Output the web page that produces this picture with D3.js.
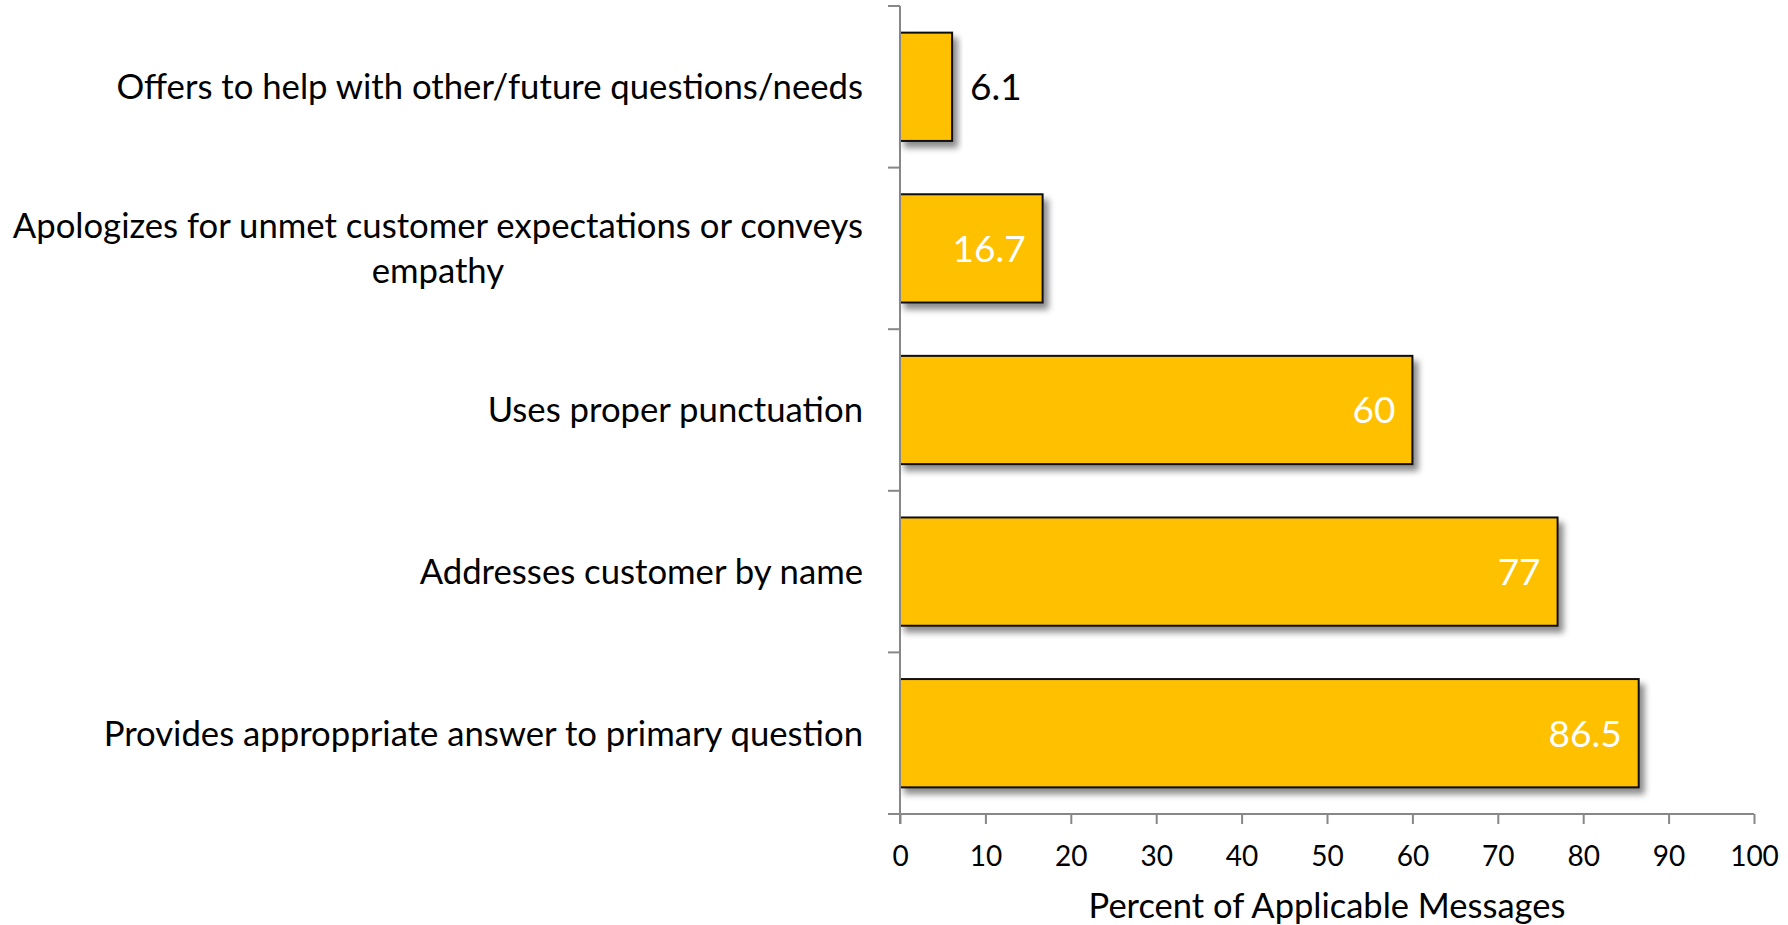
<!DOCTYPE html>
<html>
<head>
<meta charset="utf-8">
<script src="https://cdn.jsdelivr.net/npm/d3@7/dist/d3.min.js"></script>
<style>
  html, body { margin: 0; padding: 0; background: #ffffff; }
  svg { display: block; }
  text { font-family: Lato, "Open Sans", sans-serif; }
</style>
</head>
<body>
<svg id="chart" width="1788" height="925"></svg>
<script>
// Message quality criteria, top to bottom
const categories = [
  "Offers to help with other/future questions/needs",
  "Apologizes for unmet customer expectations or conveys\nempathy",
  "Uses proper punctuation",
  "Addresses customer by name",
  "Provides approppriate answer to primary question"
];
const values = [6.1, 16.7, 60, 77, 86.5];
const xTicks = [0, 10, 20, 30, 40, 50, 60, 70, 80, 90, 100];
const xTitle = "Percent of Applicable Messages";

const svg = d3.select("#chart");
const plotLeft = 900, plotRight = 1754, plotTop = 6, plotBottom = 814;

const x = d3.scaleLinear().domain([0, 100]).range([plotLeft, plotRight]);
const y = d3.scaleBand()
  .domain(categories)
  .range([plotTop, plotBottom])
  .paddingInner(0.33)
  .paddingOuter(0.165);

// soft drop shadow under bars
const defs = svg.append("defs");
const f = defs.append("filter").attr("id", "barShadow")
  .attr("x", "-10%").attr("y", "-20%").attr("width", "130%").attr("height", "150%");
f.append("feDropShadow")
  .attr("dx", 5).attr("dy", 6).attr("stdDeviation", 3)
  .attr("flood-color", "#000").attr("flood-opacity", 0.45);

const axisColor = "#878787";

// bars
const data = categories.map((c, i) => ({ c, v: values[i] }));
svg.append("g").selectAll("rect").data(data).join("rect")
  .attr("x", x(0))
  .attr("y", d => y(d.c))
  .attr("width", d => x(d.v) - x(0))
  .attr("height", y.bandwidth())
  .attr("fill", "#FFC000")
  .attr("stroke", "#111")
  .attr("stroke-width", 2)
  .attr("filter", "url(#barShadow)");

// y axis: line plus boundary ticks between categories
const yAxis = svg.append("g");
yAxis.append("line")
  .attr("x1", plotLeft).attr("x2", plotLeft)
  .attr("y1", plotTop).attr("y2", plotBottom + 10)
  .attr("stroke", axisColor).attr("stroke-width", 2);
const boundaries = d3.range(categories.length + 1).map(i => plotTop + i * y.step());
yAxis.selectAll("line.tick").data(boundaries).join("line")
  .attr("class", "tick")
  .attr("x1", plotLeft - 12).attr("x2", plotLeft)
  .attr("y1", d => d).attr("y2", d => d)
  .attr("stroke", axisColor).attr("stroke-width", 2);

// category labels: block right-aligned to the axis, wrapped lines centred within it
const labelSize = 34.7;
const lineH = 45;
const labelRight = plotLeft - 37;
svg.append("g").selectAll("text").data(categories).join("text")
  .attr("font-size", labelSize)
  .attr("fill", "#000")
  .each(function (d) {
    const lines = d.split("\n");
    const cy = y(d) + y.bandwidth() / 2;
    const first = cy + 0.36 * labelSize - (lines.length - 1) * lineH / 2;
    const t = d3.select(this);
    const spans = t.selectAll("tspan").data(lines).join("tspan")
      .attr("y", (l, i) => first + i * lineH)
      .text(l => l);
    if (lines.length === 1) {
      t.attr("text-anchor", "end");
      spans.attr("x", labelRight);
    } else {
      const widths = spans.nodes().map(n => n.getComputedTextLength());
      const blockW = d3.max(widths);
      t.attr("text-anchor", "middle");
      spans.attr("x", labelRight - blockW / 2);
    }
  });

// x axis
const xAxis = svg.append("g")
  .attr("transform", `translate(0,${plotBottom})`)
  .call(d3.axisBottom(x).tickValues(xTicks).tickSize(10).tickPadding(22).tickSizeOuter(0));
xAxis.select(".domain").attr("stroke", axisColor).attr("stroke-width", 2)
  .attr("d", `M${plotLeft - 12},0H${plotRight}`);
xAxis.selectAll(".tick line").attr("stroke", axisColor).attr("stroke-width", 2);
xAxis.selectAll(".tick text")
  .attr("font-family", "Lato, 'Open Sans', sans-serif")
  .attr("font-size", 28)
  .attr("fill", "#000");

// axis title
svg.append("text")
  .attr("x", (plotLeft + plotRight) / 2)
  .attr("y", 918)
  .attr("text-anchor", "middle")
  .attr("font-size", 34.5)
  .attr("fill", "#000")
  .text(xTitle);

// value labels: inside the bar end in white, outside in black for short bars
const valSize = 37;
svg.append("g").selectAll("text").data(data).join("text")
  .attr("font-size", valSize)
  .attr("x", d => d.v < 10 ? x(d.v) + 18 : x(d.v) - 17)
  .attr("y", d => y(d.c) + y.bandwidth() / 2 + 0.36 * valSize)
  .attr("text-anchor", d => d.v < 10 ? "start" : "end")
  .attr("fill", d => d.v < 10 ? "#000" : "#fff")
  .text(d => d3.format("")(d.v));
</script>
</body>
</html>
